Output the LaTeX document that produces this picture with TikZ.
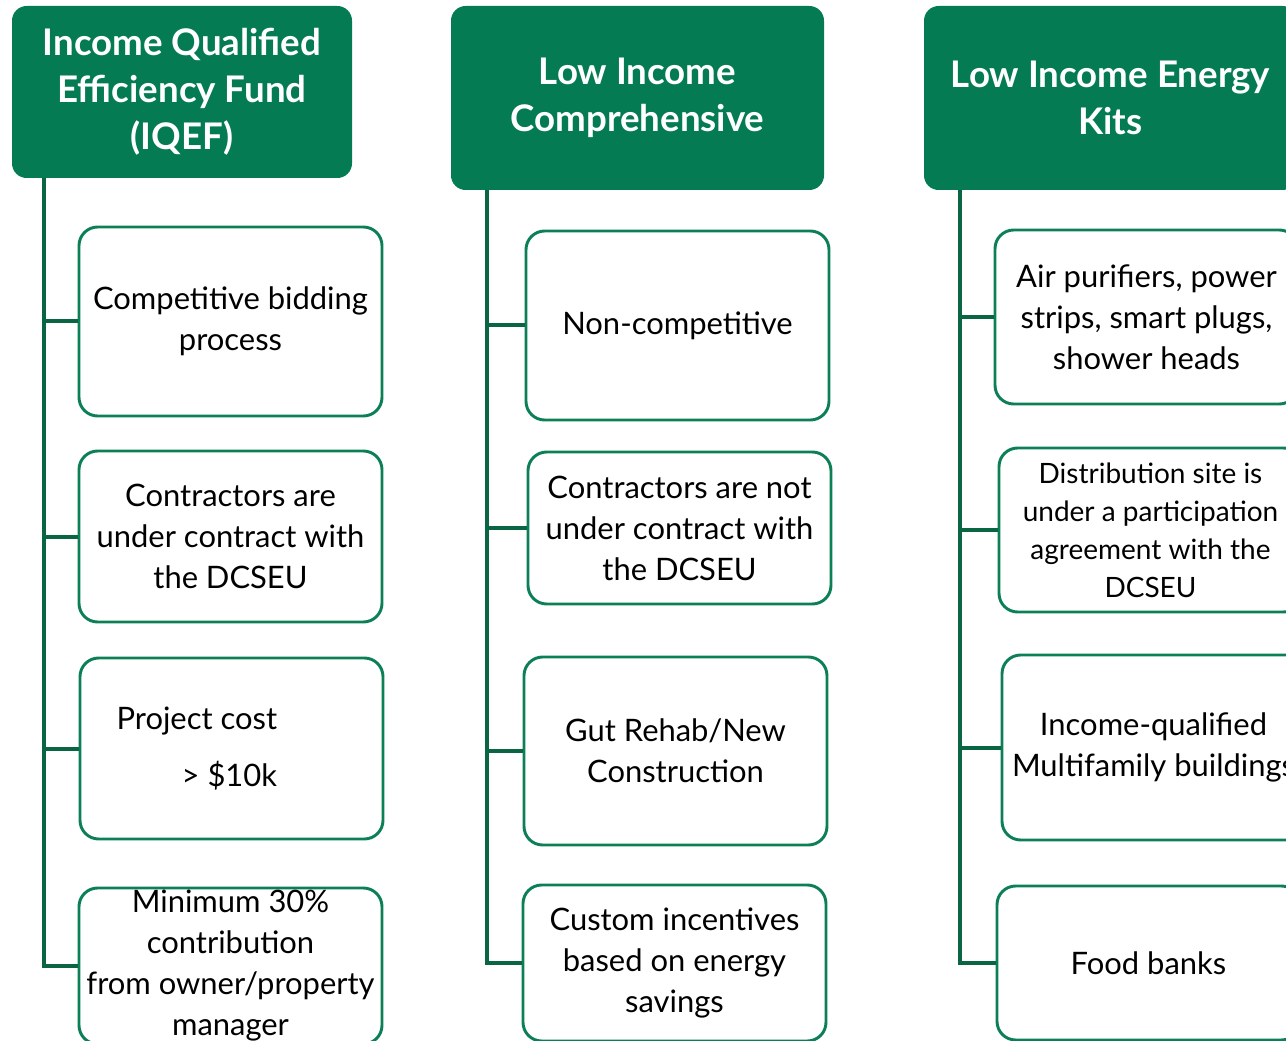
\documentclass[tikz,border=0pt]{standalone}
\usepackage{fontspec}
\setmainfont{Lato}
\usetikzlibrary{positioning}

\definecolor{headgreen}{RGB}{4,123,83}
\definecolor{boxgreen}{RGB}{12,127,86}
\definecolor{trunkgreen}{RGB}{10,102,66}

\begin{document}
\begin{tikzpicture}[
x=0.75pt, y=-0.75pt,
headnode/.style={rectangle, rounded corners=11pt, fill=headgreen, text=white,
  align=center, font=\fontsize{27.5}{35.25}\selectfont\bfseries},
itemnode/.style={rectangle, rounded corners=14pt, draw=boxgreen, line width=2.2pt,
  minimum width=227.25pt, align=center, inner ysep=-6pt,
  font=\fontsize{23.2}{30.75}\selectfont},
smallnode/.style={itemnode, font=\fontsize{21}{28.5}\selectfont},
trunk/.style={draw=trunkgreen, line width=3pt}]
\useasboundingbox (0,0) rectangle (1286,1041);
\clip (0,0) rectangle (1286,1041);
% Headers
\node[headnode, minimum width=255pt, minimum height=129pt] (h1) at (182,92)
  {Income Qualified\\Efficiency Fund\\(IQEF)};
\node[headnode, minimum width=279.75pt, minimum height=138pt] (h2) at (637.5,98)
  {Low Income\\Comprehensive};
\node[headnode, minimum width=279.75pt, minimum height=138pt] (h3) at (1110.5,98)
  {Low Income Energy\\Kits};
% IQEF items
\node[itemnode, minimum height=141.75pt] (b1) at (230.5,321.5)
  {Competitive bidding\\process};
\node[itemnode, minimum height=128.25pt] (b2) at (230.5,536.5)
  {Contractors are\\under contract with\\the DCSEU};
\node[itemnode, minimum height=135.75pt, align=right] (b3) at (231.5,748.5)
  {Project cost\hspace*{52pt}\\[12pt]> \$10k\hspace*{52pt}};
\node[itemnode, minimum height=117pt] (b4) at (230.5,966)
  {Minimum 30\%\\contribution\\from owner/property\\manager};
% Comprehensive items
\node[itemnode, minimum height=141.75pt] (c1) at (677.5,325.5)
  {Non-competitive};
\node[itemnode, minimum height=114pt] (c2) at (679.5,528)
  {Contractors are not\\under contract with\\the DCSEU};
\node[itemnode, minimum height=141pt] (c3) at (675.5,751)
  {Gut Rehab/New\\Construction};
\node[itemnode, minimum height=117pt] (c4) at (674.5,963)
  {Custom incentives\\based on energy\\savings};
% Kits items
\node[itemnode, minimum height=130.5pt] (d1) at (1146.5,317)
  {Air purifiers, power\\strips, smart plugs,\\shower heads};
\node[smallnode, minimum height=123pt] (d2) at (1150.5,530)
  {Distribution site is\\under a participation\\agreement with the\\DCSEU};
\node[itemnode, minimum height=138.75pt] (d3) at (1153.5,747.5)
  {Income-qualified\\Multifamily buildings};
\node[itemnode, minimum height=115.5pt] (d4) at (1148.5,963)
  {Food banks};
% Lines
\coordinate (t1) at ([xshift=24pt]h1.south west);
\coordinate (t2) at ([xshift=27pt]h2.south west);
\coordinate (t3) at ([xshift=27pt]h3.south west);
\draw[trunk] (t1) |- (b4.west);
\draw[trunk] (t2) |- (c4.west);
\draw[trunk] (t3) |- (d4.west);
\foreach \b in {b1,b2,b3} \draw[trunk] (\b.west) -- (\b.west -| t1);
\foreach \b in {c1,c2,c3} \draw[trunk] (\b.west) -- (\b.west -| t2);
\foreach \b in {d1,d2,d3} \draw[trunk] (\b.west) -- (\b.west -| t3);
\end{tikzpicture}
\end{document}
